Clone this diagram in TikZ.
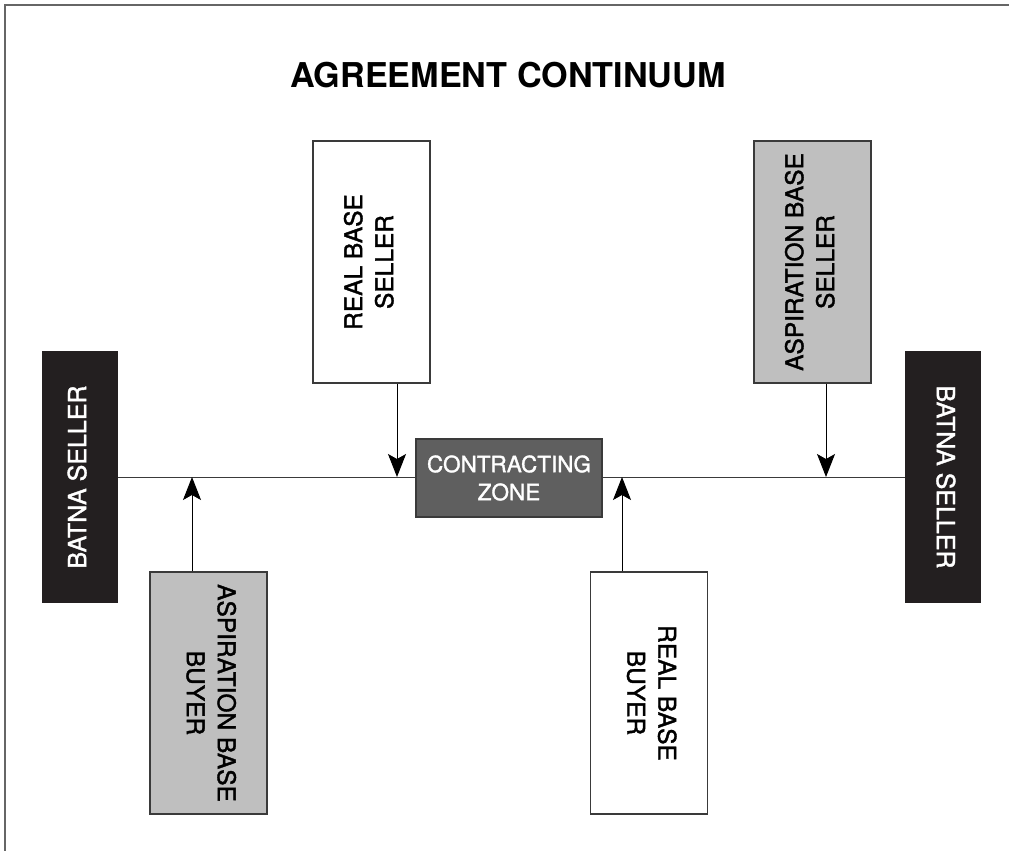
\documentclass[tikz,border=0pt]{standalone}
\usepackage{fontspec}
\setmainfont{TeX Gyre Heros}
\newfontfamily\labelfont[FakeBold=1.5]{TeX Gyre Heros}
\usetikzlibrary{arrows.meta}
\definecolor{inkdark}{HTML}{231F20}
\definecolor{boxgray}{HTML}{BFBFBF}
\definecolor{zonegray}{HTML}{5F5F5F}
\definecolor{edge}{HTML}{3A3A3A}
\newcommand{\vlabel}[2]{\rotatebox{#1}{\begin{tabular}{@{}c@{}}#2\end{tabular}}}
\tikzset{
  basebox/.style={draw=edge, line width=1.3pt, inner sep=0pt, minimum width=117pt, minimum height=242pt,
    font=\labelfont\fontsize{24.5}{31}\selectfont},
  lightbox/.style={basebox, fill=white},
  graybox/.style={basebox, fill=boxgray},
  batnabox/.style={fill=inkdark, inner sep=0pt, minimum width=76pt, minimum height=252pt, text=white,
    font=\labelfont\fontsize{25}{31}\selectfont},
  zonebox/.style={draw=edge, line width=1.3pt, fill=zonegray, inner sep=0pt, minimum width=186pt,
    minimum height=78pt, text=white, align=center, font=\labelfont\fontsize{22.5}{28}\selectfont},
  axisline/.style={draw=edge, line width=1pt},
  pointer/.style={draw=black, line width=1pt, -{Stealth[length=23pt, width=18pt, inset=5pt]}},
  frameline/.style={draw=gray!80!black, line width=2pt}
}
\begin{document}
\begin{tikzpicture}[x=1pt, y=-1pt]
  \useasboundingbox (0,0) rectangle (1009,851);
  % open frame: top and left edges only
  \draw[frameline] (5,851) -- (5,5) -- (1009,5);

  \node (title) at (508,75) {\fontsize{34.2}{36}\selectfont\bfseries AGREEMENT CONTINUUM};

  % end points of the continuum
  \node[batnabox] (batnaL) at (80,477) {\vlabel{90}{BATNA SELLER}};
  \node[batnabox] (batnaR) at (943,477) {\vlabel{-90}{BATNA SELLER}};

  % the continuum line
  \draw[axisline] (batnaL.east) -- (batnaR.west);

  % seller positions above the line
  \node[lightbox] (realS) at (371.5,262) {\vlabel{90}{REAL BASE\\SELLER}};
  \node[graybox]  (aspS)  at (812.5,262) {\vlabel{90}{ASPIRATION BASE\\SELLER}};

  % buyer positions below the line
  \node[graybox]  (aspB)  at (208.5,693) {\vlabel{-90}{ASPIRATION BASE\\BUYER}};
  \node[lightbox] (realB) at (649,693)   {\vlabel{-90}{REAL BASE\\BUYER}};

  % overlap of the two ranges
  \node[zonebox] (zone) at (509,478) {CONTRACTING\\ZONE};

  % points where each position meets the line
  \coordinate (pRS) at (397,477);
  \coordinate (pAS) at (826,477);
  \coordinate (pAB) at (192,477);
  \coordinate (pRB) at (622,477);

  \draw[pointer] (realS.south -| pRS) -- (pRS);
  \draw[pointer] (aspS.south -| pAS) -- (pAS);
  \draw[pointer] (aspB.north -| pAB) -- (pAB);
  \draw[pointer] (realB.north -| pRB) -- (pRB);
\end{tikzpicture}
\end{document}
